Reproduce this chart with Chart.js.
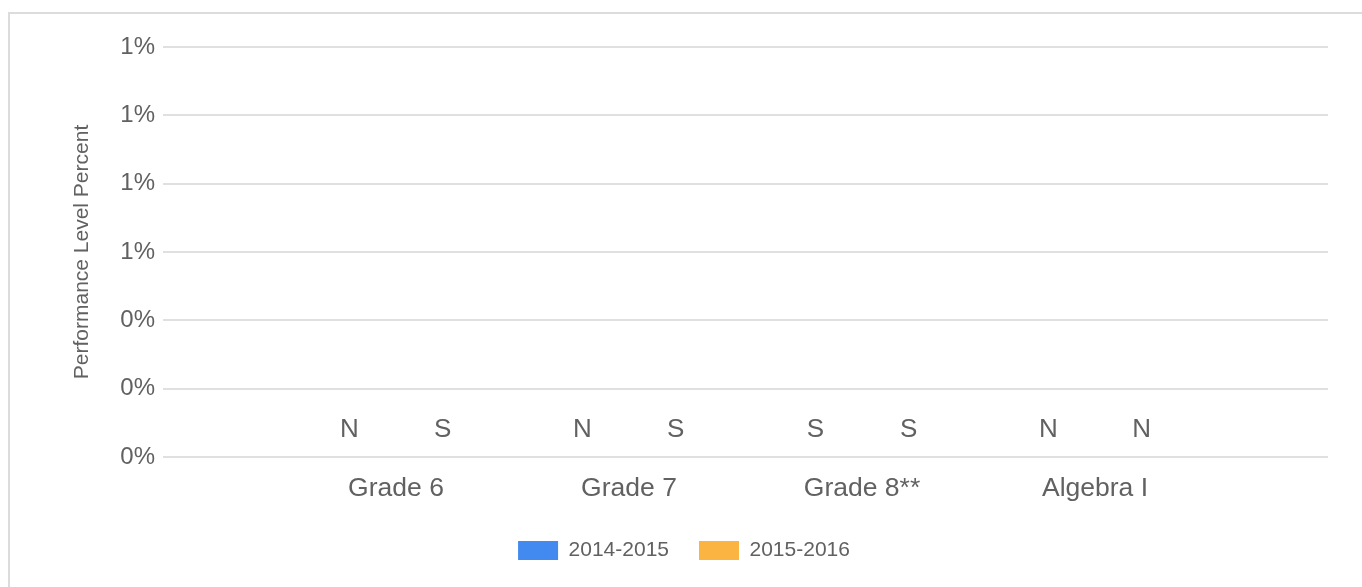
<!DOCTYPE html>
<html>
<head>
<meta charset="utf-8">
<script src="https://cdn.jsdelivr.net/npm/chart.js@4/dist/chart.umd.min.js"></script>
<style>
  html, body { margin: 0; padding: 0; background: #fff; }
  body { width: 1362px; height: 587px; position: relative; overflow: hidden; }
  #frame { position: absolute; left: 8px; top: 12px; right: -4px; bottom: -4px;
           border-left: 2px solid #dcdcdc; border-top: 2px solid #dcdcdc; }
  #wrap { position: absolute; left: 0; top: 0; width: 1362px; height: 587px; }
</style>
</head>
<body>
<div id="frame"></div>
<div id="wrap"><canvas id="c" width="1362" height="587"></canvas></div>
<script>
// ---- data ----
const categories = ['Grade 6', 'Grade 7', 'Grade 8**', 'Algebra I'];
const seriesNames = ['2014-2015', '2015-2016'];
const values2014 = [0, 0, 0, 0];
const values2015 = [0, 0, 0, 0];
const flags2014 = ['N', 'N', 'S', 'N'];
const flags2015 = ['S', 'S', 'S', 'N'];
const yTickValues = [0, 0.2, 0.4, 0.6, 0.8, 1.0, 1.2];
const colors = ['#4289f0', '#fbb341'];

// pad categories so the groups sit at the inner gridpoints of an un-offset axis
const labels = [''].concat(categories, ['']);
const pad = arr => [null].concat(arr, [null]);
const flagSets = [pad(flags2014), pad(flags2015)];

const FONT = "'Liberation Sans', Arial, sans-serif";
const TEXT = '#616161';

const flagPlugin = {
  id: 'flags',
  afterDatasetsDraw(chart) {
    const ctx = chart.ctx;
    ctx.save();
    ctx.font = '26px ' + FONT;
    ctx.fillStyle = TEXT;
    ctx.textAlign = 'center';
    ctx.textBaseline = 'middle';
    chart.data.datasets.forEach((ds, di) => {
      const meta = chart.getDatasetMeta(di);
      meta.data.forEach((bar, i) => {
        const f = flagSets[di][i];
        if (!f) return;
        ctx.fillText(f, bar.x, bar.y - 27);
      });
    });
    ctx.restore();
  }
};

new Chart(document.getElementById('c'), {
  type: 'bar',
  data: {
    labels: labels,
    datasets: [
      { label: seriesNames[0], data: pad(values2014), backgroundColor: colors[0], borderColor: colors[0], borderWidth: 0 },
      { label: seriesNames[1], data: pad(values2015), backgroundColor: colors[1], borderColor: colors[1], borderWidth: 0 }
    ]
  },
  options: {
    responsive: false,
    animation: false,
    devicePixelRatio: 1,
    layout: { padding: { left: 40, top: 47, right: 34, bottom: 16 } },
    plugins: {
      tooltip: { enabled: false },
      legend: {
        position: 'bottom',
        labels: {
          boxWidth: 40, boxHeight: 19, padding: 30,
          color: TEXT, font: { family: FONT, size: 21 }
        }
      }
    },
    scales: {
      x: {
        offset: false,
        afterFit(scale) { scale.height = 53; },
        grid: { display: false, drawTicks: false },
        border: { display: false },
        ticks: { color: TEXT, font: { family: FONT, size: 26.5 }, padding: 16, maxRotation: 0, autoSkip: false }
      },
      y: {
        min: 0, max: 1.2,
        afterBuildTicks(scale) { scale.ticks = yTickValues.map(v => ({ value: v })); },
        afterFit(scale) { scale.width = 123; },
        grid: { color: '#e0e0e0', lineWidth: 2, drawTicks: false },
        border: { display: false },
        ticks: {
          color: TEXT, font: { family: FONT, size: 24 }, padding: 8,
          callback: v => Math.round(v) + '%'
        },
        title: { display: true, text: 'Performance Level Percent', color: TEXT,
                 font: { family: FONT, size: 21 }, padding: { top: 30, bottom: 4 } }
      }
    }
  },
  plugins: [flagPlugin]
});
</script>
</body>
</html>
